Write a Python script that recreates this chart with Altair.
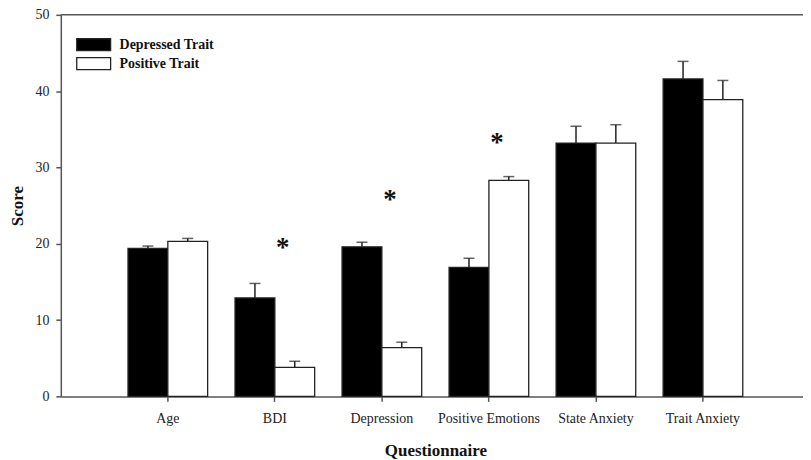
import altair as alt
import pandas as pd

categories = ["Age", "BDI", "Depression", "Positive Emotions", "State Anxiety", "Trait Anxiety"]
groups = ["Depressed Trait", "Positive Trait"]
depressed_mean = [19.4, 12.9, 19.6, 16.9, 33.2, 41.6]
depressed_err = [0.3, 1.9, 0.6, 1.2, 2.2, 2.3]
positive_mean = [20.3, 3.8, 6.4, 28.3, 33.2, 38.9]
positive_err = [0.4, 0.8, 0.7, 0.5, 2.4, 2.5]
star_categories = ["BDI", "Depression", "Positive Emotions"]
star_y = [20.1, 26.4, 33.9]

rows = []
for i, c in enumerate(categories):
    rows.append({"category": c, "group": groups[0], "mean": depressed_mean[i],
                 "upper": depressed_mean[i] + depressed_err[i]})
    rows.append({"category": c, "group": groups[1], "mean": positive_mean[i],
                 "upper": positive_mean[i] + positive_err[i]})
df = pd.DataFrame(rows)
stars = pd.DataFrame({"category": star_categories, "y": star_y, "s": ["*"] * len(star_y)})

FONT = "Liberation Serif"
AX = "#555555"
W, H = 745, 383

xscale = alt.Scale(domain=categories, range=[0, 752], paddingInner=0, paddingOuter=0.5)
xoff = alt.XOffset("group:N", sort=groups,
                   scale=alt.Scale(domain=groups, paddingInner=0, paddingOuter=0.34375))
yscale = alt.Scale(domain=[0, 50], nice=False, zero=True)

x_enc = alt.X("category:N", sort=categories, scale=xscale,
              axis=alt.Axis(title="Questionnaire", labelAngle=0, bandPosition=0.5,
                            domainColor=AX, domainWidth=1.5, tickColor=AX, tickWidth=1.5,
                            tickSize=5, labelFont=FONT, labelFontSize=14, labelColor="#222",
                            labelPadding=10, titleFont=FONT, titleFontSize=17,
                            titleFontWeight="bold", titleColor="#111", titleY=59,
                            titleBaseline="alphabetic", titleAnchor="middle",
                            titleX=376))
y_enc = alt.Y("mean:Q", scale=yscale,
              axis=alt.Axis(title="Score", values=[0, 10, 20, 30, 40, 50], grid=False,
                            domainColor=AX, domainWidth=1.5, tickColor=AX, tickWidth=1.5,
                            tickSize=5, labelFont=FONT, labelFontSize=14, labelColor="#222",
                            labelPadding=7, titleFont=FONT, titleFontSize=17,
                            titleFontWeight="bold", titleColor="#111", titleAngle=270,
                            titleX=-38, titleY=H / 2, titleAlign="center",
                            titleBaseline="alphabetic"))

base = alt.Chart(df)

err = base.mark_rule(color="#222", strokeWidth=1.5).encode(
    x=x_enc, xOffset=xoff, y=y_enc, y2="upper:Q")
caps = base.mark_tick(color="#222", thickness=1.5, size=11).encode(
    x=x_enc, xOffset=xoff, y=alt.Y("upper:Q", scale=yscale))
bars = base.mark_bar(stroke="#222", strokeWidth=1.3).encode(
    x=x_enc, xOffset=xoff, y=y_enc,
    fill=alt.Fill("group:N", scale=alt.Scale(domain=groups, range=["black", "white"]),
                  legend=None))
star_layer = alt.Chart(stars).mark_text(font=FONT, fontSize=27, fontWeight="bold", dx=8,
                                        dy=13, baseline="alphabetic", align="center",
                                        color="#111").encode(
    x=alt.X("category:N", sort=categories, scale=xscale), y=alt.Y("y:Q", scale=yscale),
    text="s:N")

top_line = alt.Chart(pd.DataFrame({"a": [0]})).mark_rule(color=AX, strokeWidth=1.5).encode(
    x=alt.value(0), x2=alt.value(752), y=alt.value(0))

legend_layers = []
for i, g in enumerate(groups):
    d = alt.Chart(pd.DataFrame({"label": [g]}))
    y0 = 24 + i * 19
    legend_layers.append(d.mark_rect(fill=["black", "white"][i], stroke="#222",
                                     strokeWidth=1.3).encode(
        x=alt.value(16), x2=alt.value(50), y=alt.value(y0), y2=alt.value(y0 + 12)))
    legend_layers.append(d.mark_text(font=FONT, fontSize=14, fontWeight="bold",
                                     align="left", baseline="middle", color="#111").encode(
        x=alt.value(59), y=alt.value(y0 + 6), text="label:N"))

chart = alt.layer(err, caps, bars, star_layer, top_line, *legend_layers).properties(
    width=W, height=H,
    autosize=alt.AutoSizeParams(type="none"),
    padding={"left": 53, "top": 6, "right": 0, "bottom": 63},
).configure_view(stroke=None)

chart.save("out.html", embed_options={"renderer": "svg", "actions": False})
